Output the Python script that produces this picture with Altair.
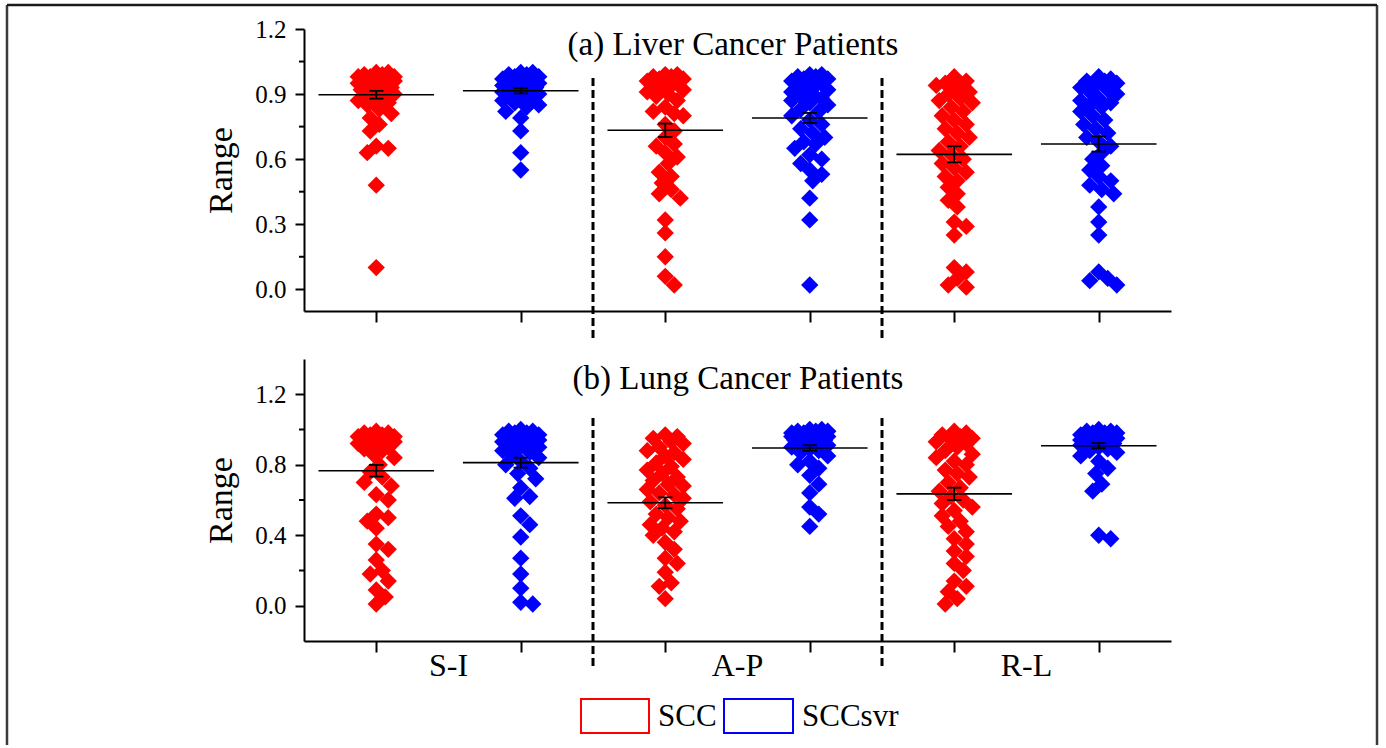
import math
import altair as alt
import pandas as pd

# ---------------- data ----------------
groups = ["S-I", "A-P", "R-L"]
series = ["SCC", "SCCsvr"]
colors = ["#FF0000", "#0000FF"]

# (a) Liver cancer patients
liver_si_scc = [0.10, 0.48, 0.63, 0.65, 0.66, 0.73, 0.76, 0.79, 0.81, 0.83, 0.85, 0.86, 0.87, 0.88,
                0.89, 0.90, 0.90, 0.91, 0.92, 0.92, 0.93, 0.93, 0.94, 0.94, 0.95, 0.95, 0.95, 0.96,
                0.96, 0.96, 0.97, 0.97, 0.97, 0.98, 0.98, 0.98, 0.99, 0.99, 1.00, 1.00]
liver_si_svr = [0.55, 0.63, 0.73, 0.79, 0.82, 0.84, 0.85, 0.86, 0.87, 0.88, 0.88, 0.89, 0.89, 0.90,
                0.90, 0.91, 0.91, 0.92, 0.92, 0.93, 0.93, 0.93, 0.94, 0.94, 0.94, 0.95, 0.95, 0.95,
                0.96, 0.96, 0.96, 0.97, 0.97, 0.97, 0.98, 0.98, 0.99, 0.99, 1.00, 1.00]
liver_ap_scc = [0.02, 0.06, 0.15, 0.26, 0.32, 0.42, 0.44, 0.46, 0.49, 0.52, 0.54, 0.58, 0.61, 0.63,
                0.66, 0.67, 0.70, 0.73, 0.76, 0.80, 0.81, 0.82, 0.84, 0.87, 0.89, 0.90, 0.91, 0.92,
                0.93, 0.94, 0.95, 0.95, 0.96, 0.96, 0.97, 0.97, 0.98, 0.98, 0.99, 0.99]
liver_ap_svr = [0.02, 0.32, 0.42, 0.50, 0.53, 0.55, 0.58, 0.60, 0.62, 0.65, 0.67, 0.68, 0.70, 0.72,
                0.74, 0.76, 0.78, 0.80, 0.82, 0.83, 0.85, 0.86, 0.87, 0.88, 0.89, 0.90, 0.91, 0.92,
                0.93, 0.94, 0.95, 0.95, 0.96, 0.96, 0.97, 0.97, 0.98, 0.98, 0.99, 0.99]
liver_rl_scc = [0.01, 0.02, 0.05, 0.08, 0.10, 0.25, 0.29, 0.31, 0.38, 0.41, 0.44, 0.47, 0.50, 0.52,
                0.54, 0.56, 0.58, 0.60, 0.62, 0.64, 0.66, 0.68, 0.70, 0.72, 0.74, 0.76, 0.78, 0.80,
                0.82, 0.84, 0.86, 0.87, 0.88, 0.90, 0.91, 0.93, 0.94, 0.95, 0.96, 0.98]
liver_rl_svr = [0.02, 0.04, 0.05, 0.08, 0.25, 0.31, 0.38, 0.44, 0.46, 0.48, 0.50, 0.52, 0.55, 0.57,
                0.60, 0.63, 0.66, 0.68, 0.70, 0.72, 0.74, 0.76, 0.78, 0.80, 0.82, 0.84, 0.85, 0.86,
                0.87, 0.88, 0.90, 0.91, 0.92, 0.93, 0.94, 0.95, 0.96, 0.96, 0.97, 0.98]
liver_means = [0.897, 0.915, 0.733, 0.790, 0.622, 0.670]
liver_errs = [0.018, 0.012, 0.031, 0.023, 0.037, 0.035]

# (b) Lung cancer patients
lung_si_scc = [0.01, 0.05, 0.09, 0.14, 0.18, 0.20, 0.26, 0.32, 0.35, 0.44, 0.48, 0.50, 0.52, 0.60,
               0.63, 0.68, 0.70, 0.73, 0.76, 0.80, 0.84, 0.86, 0.88, 0.89, 0.90, 0.91, 0.92, 0.93,
               0.93, 0.94, 0.94, 0.95, 0.95, 0.96, 0.96, 0.97, 0.97, 0.98, 0.98, 0.99]
lung_si_svr = [0.01, 0.02, 0.10, 0.18, 0.27, 0.39, 0.46, 0.51, 0.61, 0.62, 0.67, 0.72, 0.75, 0.78,
               0.80, 0.82, 0.84, 0.86, 0.87, 0.88, 0.89, 0.90, 0.91, 0.92, 0.92, 0.93, 0.93, 0.94,
               0.94, 0.95, 0.95, 0.96, 0.96, 0.97, 0.97, 0.98, 0.98, 0.99, 0.99, 1.00]
lung_ap_scc = [0.04, 0.11, 0.13, 0.19, 0.24, 0.27, 0.32, 0.36, 0.40, 0.42, 0.44, 0.46, 0.48, 0.50,
               0.52, 0.55, 0.57, 0.59, 0.61, 0.63, 0.64, 0.66, 0.68, 0.69, 0.71, 0.73, 0.75, 0.77,
               0.79, 0.81, 0.83, 0.85, 0.87, 0.88, 0.90, 0.92, 0.93, 0.95, 0.96, 0.97]
lung_ap_svr = [0.45, 0.52, 0.56, 0.64, 0.69, 0.74, 0.78, 0.80, 0.82, 0.85, 0.87, 0.88, 0.89, 0.90,
               0.91, 0.92, 0.92, 0.93, 0.93, 0.94, 0.94, 0.95, 0.95, 0.95, 0.96, 0.96, 0.96, 0.97,
               0.97, 0.97, 0.98, 0.98, 0.98, 0.99, 0.99, 0.99, 1.00, 1.00]
lung_rl_scc = [0.01, 0.04, 0.08, 0.11, 0.14, 0.20, 0.24, 0.28, 0.31, 0.35, 0.38, 0.42, 0.45, 0.48,
               0.51, 0.54, 0.56, 0.58, 0.60, 0.62, 0.65, 0.67, 0.70, 0.73, 0.75, 0.77, 0.80, 0.82,
               0.84, 0.86, 0.88, 0.90, 0.92, 0.93, 0.94, 0.95, 0.96, 0.97, 0.98, 0.99]
lung_rl_svr = [0.38, 0.40, 0.65, 0.69, 0.75, 0.78, 0.82, 0.85, 0.87, 0.88, 0.89, 0.90, 0.91, 0.92,
               0.92, 0.93, 0.93, 0.94, 0.94, 0.95, 0.95, 0.95, 0.96, 0.96, 0.96, 0.97, 0.97, 0.97,
               0.98, 0.98, 0.98, 0.99, 0.99, 1.00]
lung_means = [0.766, 0.812, 0.584, 0.895, 0.635, 0.908]
lung_errs = [0.033, 0.028, 0.031, 0.016, 0.035, 0.015]

liver_sets = [liver_si_scc, liver_si_svr, liver_ap_scc, liver_ap_svr, liver_rl_scc, liver_rl_svr]
lung_sets = [lung_si_scc, lung_si_svr, lung_ap_scc, lung_ap_svr, lung_rl_scc, lung_rl_svr]

# ---------------- layout helpers ----------------
PLOT_W, PLOT_H = 867, 282
X_PX = PLOT_W / 6.0
FONT = "Liberation Serif"


def swarm(values, y_px_per_unit, dmin=11.0, maxoff=20.0, step=3.0):
    """deterministic beeswarm offsets (in x data units) computed from the values"""
    order = sorted(range(len(values)), key=lambda i: -values[i])
    cands = [0.0]
    k = 1
    while k * step <= maxoff:
        cands += [k * step, -k * step]
        k += 1
    placed, offs = [], [0.0] * len(values)
    for i in order:
        y = values[i] * y_px_per_unit
        best, bestd = 0.0, -1.0
        for c in cands:
            md = min([math.hypot(c - px, y - py) for px, py in placed] or [1e9])
            if md >= dmin:
                best = c
                break
            if md > bestd:
                best, bestd = c, md
        placed.append((best, y))
        offs[i] = best / X_PX
    return offs


def build_points(sets, y_px_per_unit):
    rows = []
    for idx, vals in enumerate(sets):
        g, s = idx // 2, idx % 2
        offs = swarm(vals, y_px_per_unit)
        for v, o in zip(vals, offs):
            rows.append({"group": groups[g], "series": series[s], "value": v,
                         "x": 2 * g + s + 0.5 + o})
    return pd.DataFrame(rows)


def build_stats(means, errs):
    rows = []
    for idx, (m, e) in enumerate(zip(means, errs)):
        c = idx + 0.5
        rows.append({"xc": c, "xl": c - 0.4, "xr": c + 0.4, "cl": c - 0.05, "cr": c + 0.05,
                     "mean": m, "lo": m - e, "hi": m + e})
    return pd.DataFrame(rows)


def panel(sets, means, errs, ydomain, yticks, yminor, title, title_x, title_y, sep_y, sep_y2,
          extra=None):
    y_px = PLOT_H / (ydomain[1] - ydomain[0])
    pts = build_points(sets, y_px)
    stats = build_stats(means, errs)
    xs = alt.Scale(domain=[0, 6], nice=False, zero=False)
    ys = alt.Scale(domain=ydomain, nice=False, zero=False)
    xaxis = alt.Axis(values=[0.5, 1.5, 2.5, 3.5, 4.5, 5.5], labels=False, title=None, tickSize=11,
                     grid=False)
    yaxis = alt.Axis(values=yticks, format=".1f", title="Range", tickSize=9, grid=False,
                     labelPadding=9, titlePadding=16, labelFont=FONT, labelFontSize=25,
                     titleFont=FONT, titleFontSize=34, titleFontWeight="normal")

    base_pts = alt.Chart(pts).mark_point(shape="diamond", filled=True, size=300, opacity=1,
                                         strokeWidth=0).encode(
        x=alt.X("x:Q", scale=xs, axis=xaxis),
        y=alt.Y("value:Q", scale=ys, axis=yaxis),
        color=alt.Color("series:N", scale=alt.Scale(domain=series, range=colors), legend=None),
    )
    mean_l = alt.Chart(stats).mark_rule(color="black", strokeWidth=1.6).encode(
        x=alt.X("xl:Q", scale=xs, axis=xaxis), x2="xr:Q",
        y=alt.Y("mean:Q", scale=ys, axis=yaxis))
    err_v = alt.Chart(stats).mark_rule(color="black", strokeWidth=1.8).encode(
        x=alt.X("xc:Q", scale=xs, axis=xaxis),
        y=alt.Y("lo:Q", scale=ys, axis=yaxis), y2="hi:Q")
    cap_lo = alt.Chart(stats).mark_rule(color="black", strokeWidth=1.8).encode(
        x=alt.X("cl:Q", scale=xs, axis=xaxis), x2="cr:Q",
        y=alt.Y("lo:Q", scale=ys, axis=yaxis))
    cap_hi = alt.Chart(stats).mark_rule(color="black", strokeWidth=1.8).encode(
        x=alt.X("cl:Q", scale=xs, axis=xaxis), x2="cr:Q",
        y=alt.Y("hi:Q", scale=ys, axis=yaxis))
    minor = alt.Chart(pd.DataFrame({"m": yminor})).mark_rule(color="black", strokeWidth=2).encode(
        x=alt.value(-5), x2=alt.value(0), y=alt.Y("m:Q", scale=ys, axis=yaxis))
    seps = alt.Chart(pd.DataFrame({"s": [2.0, 4.0]})).mark_rule(
        color="black", strokeWidth=3, strokeDash=[8, 4]).encode(
        x=alt.X("s:Q", scale=xs, axis=xaxis), y=alt.value(sep_y), y2=alt.value(sep_y2))
    ttl = alt.Chart(pd.DataFrame({"t": [title]})).mark_text(
        font=FONT, fontSize=33, align="center", baseline="middle", color="black").encode(
        x=alt.value(title_x), y=alt.value(title_y), text="t:N")
    layers = [seps, base_pts, mean_l, err_v, cap_lo, cap_hi, minor, ttl]
    if extra:
        layers += extra
    return alt.layer(*layers).properties(width=PLOT_W, height=PLOT_H)


# outer frame (top panel coordinates)
frame_l = alt.Chart(pd.DataFrame({"a": [0]})).mark_rule(color="#3a3a3a", strokeWidth=2.5).encode(
    x=alt.value(-297), y=alt.value(-24), y2=alt.value(716))
frame_r = alt.Chart(pd.DataFrame({"a": [0]})).mark_rule(color="#3a3a3a", strokeWidth=2.5).encode(
    x=alt.value(1073), y=alt.value(-24), y2=alt.value(716))
frame_t = alt.Chart(pd.DataFrame({"a": [0]})).mark_rule(color="#1a1a1a", strokeWidth=2.5).encode(
    x=alt.value(-297), x2=alt.value(1073), y=alt.value(-24))

top = panel(liver_sets, liver_means, liver_errs, [-0.1, 1.2], [0.0, 0.3, 0.6, 0.9, 1.2],
            [0.15, 0.45, 0.75, 1.05], "(a) Liver Cancer Patients", 429, 16, 49, 312,
            extra=[frame_l, frame_r, frame_t])

# group labels and legend for the lower panel
grp = alt.Chart(pd.DataFrame({"g": groups, "c": [1.0, 3.0, 5.0]})).mark_text(
    font=FONT, fontSize=32, baseline="middle", align="center", color="black").encode(
    x=alt.X("c:Q", scale=alt.Scale(domain=[0, 6], nice=False, zero=False),
            axis=alt.Axis(values=[0.5, 1.5, 2.5, 3.5, 4.5, 5.5], labels=False, title=None,
                          tickSize=11, grid=False)),
    y=alt.value(307), text="g:N")
leg_df = pd.DataFrame({"label": series, "color": colors})
leg_r1 = alt.Chart(leg_df.iloc[[0]]).mark_rect(fill="white", stroke=colors[0], strokeWidth=2).encode(
    x=alt.value(277), x2=alt.value(345), y=alt.value(340), y2=alt.value(374))
leg_t1 = alt.Chart(leg_df.iloc[[0]]).mark_text(font=FONT, fontSize=31, align="left",
                                               baseline="middle", color="black").encode(
    x=alt.value(354), y=alt.value(358), text="label:N")
leg_r2 = alt.Chart(leg_df.iloc[[1]]).mark_rect(fill="white", stroke=colors[1], strokeWidth=2).encode(
    x=alt.value(420), x2=alt.value(489), y=alt.value(340), y2=alt.value(374))
leg_t2 = alt.Chart(leg_df.iloc[[1]]).mark_text(font=FONT, fontSize=31, align="left",
                                               baseline="middle", color="black").encode(
    x=alt.value(498), y=alt.value(358), text="label:N")

bottom = panel(lung_sets, lung_means, lung_errs, [-0.2, 1.4], [0.0, 0.4, 0.8, 1.2],
               [0.2, 0.6, 1.0], "(b) Lung Cancer Patients", 434, 20, 59, 310,
               extra=[grp, leg_r1, leg_t1, leg_r2, leg_t2])

chart = alt.vconcat(top, bottom, spacing=48, bounds="flush").properties(
    padding={"left": 5, "top": 3, "right": 0, "bottom": 0}
).configure_view(strokeWidth=0).configure_axis(
    domainColor="black", domainWidth=2, tickColor="black", tickWidth=2,
    labelFont=FONT, labelFontSize=25, labelColor="black",
    titleFont=FONT, titleFontSize=34, titleFontWeight="normal", titleColor="black",
)

chart.save("out.html", embed_options={"renderer": "svg", "actions": False})
